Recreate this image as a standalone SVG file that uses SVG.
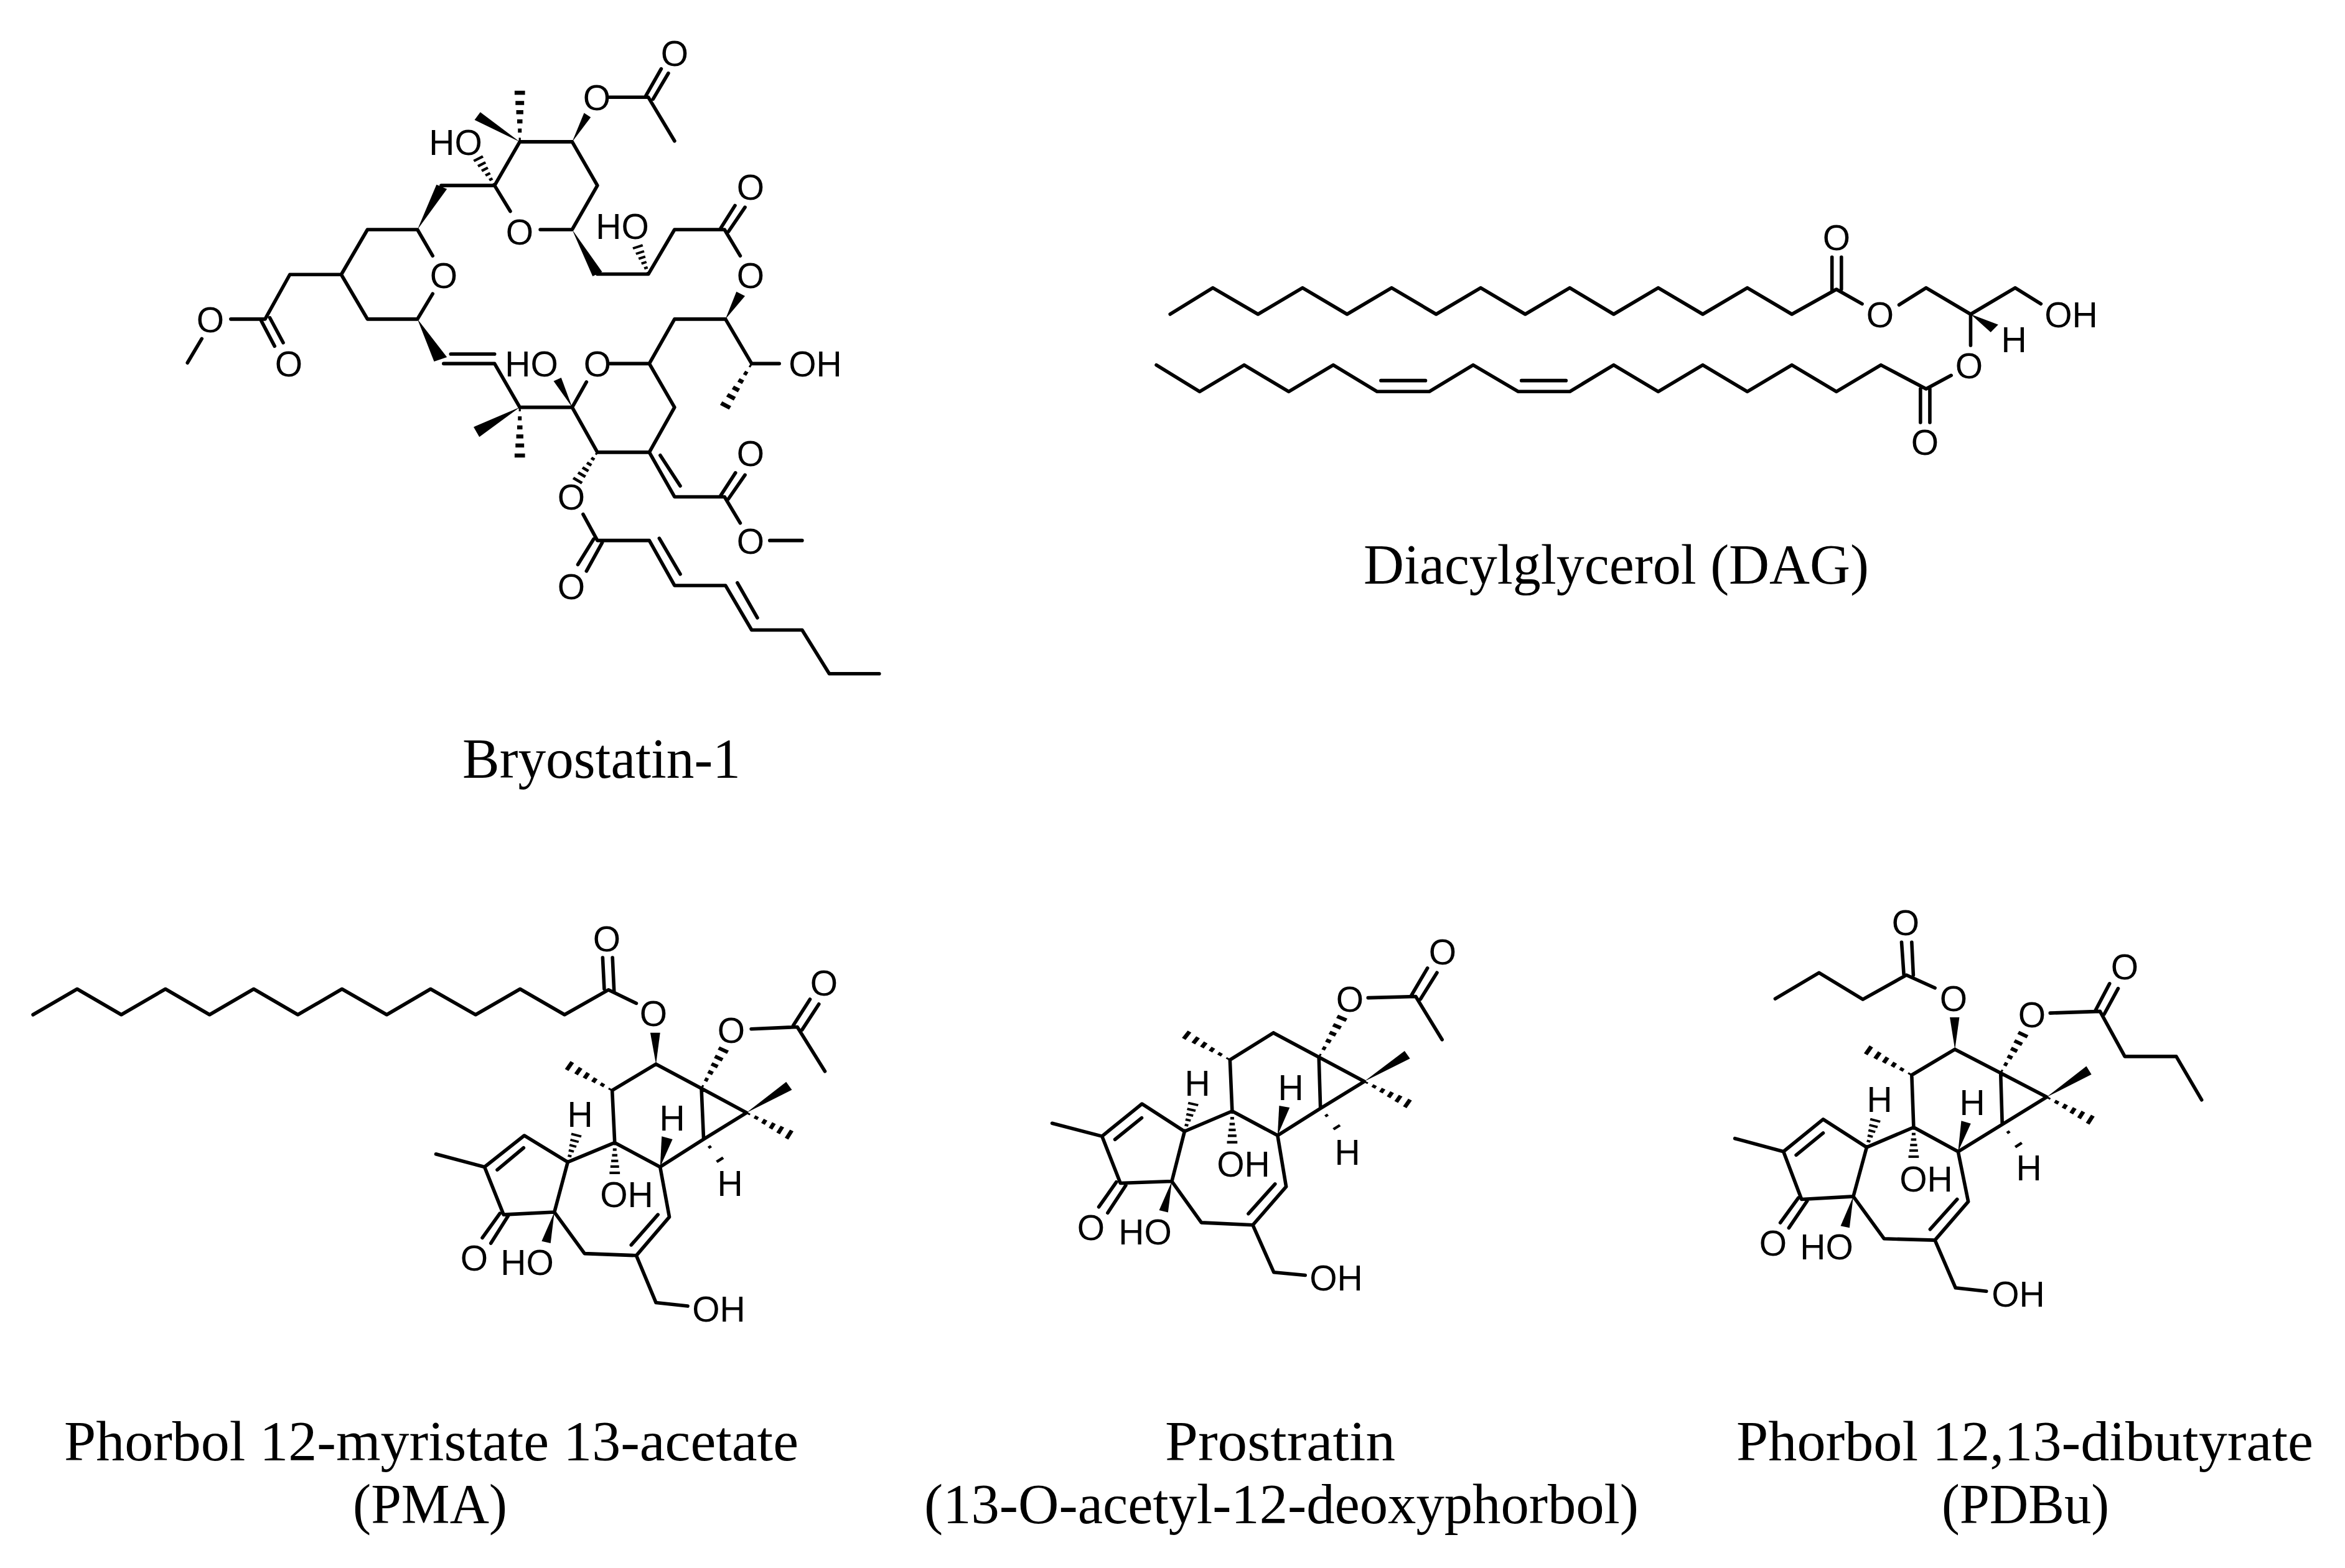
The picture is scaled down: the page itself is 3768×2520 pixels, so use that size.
<svg xmlns="http://www.w3.org/2000/svg" xmlns:xlink="http://www.w3.org/1999/xlink" width="3768" height="2520" viewBox="0 0 3768 2520">
<style>
.b{fill:none;stroke:#000;stroke-width:5.6;stroke-linecap:round;stroke-linejoin:round;vector-effect:non-scaling-stroke}
.w{fill:#000;stroke:none}
.a{font-family:"Liberation Sans",Arial,sans-serif;font-size:57px;fill:#000;text-anchor:middle}
.c{font-family:"Liberation Serif","Times New Roman",serif;font-size:90px;fill:#000}
</style>
<defs>
<g id="hash" class="w">
<rect x="0" y="-1.5" width="8" height="3"/><rect x="18" y="-2.8" width="8" height="5.6"/><rect x="36" y="-4" width="8" height="8"/><rect x="54" y="-5.3" width="8" height="10.6"/><rect x="72" y="-6.5" width="8" height="13"/><rect x="92" y="-7.8" width="8" height="15.6"/>
</g>
<g id="hash-s" class="w">
<rect x="30" y="-2.5" width="10" height="5"/><rect x="88" y="-6" width="10" height="12"/>
</g>
</defs>
<rect width="3768" height="2520" fill="#fff"/>

<g id="bryostatin">
<g transform="translate(250,30) scale(0.765,0.7018)">
<path class="b" d="M67,788L97,733M158,688L230,688L282,586L390,586L445,483L550,483L582,543M582,630L550,688L445,688L390,586M222,692L250,750M240,685L268,742"/>
<path class="b" d="M600,382L712,382L745,441M808,483L875,483L928,382L875,282L765,282L712,382"/>
<path class="b" d="M952,180L1035,180L1090,280M1030,176L1062,115M1045,184L1077,125"/>
<path class="b" d="M928,585L1035,585L1090,483L1195,483L1228,543M1187,480L1217,428M1203,488L1238,432"/>
<path class="b" d="M1197,688L1090,688L1037,790L952,790M1037,790L1090,890L1037,993L928,993L875,890L905,832M1197,688L1252,790L1310,790"/>
<path class="b" d="M875,890L765,890L712,790L605,790M620,768L712,768"/>
<path class="b" d="M1037,993L1090,1095L1195,1095L1228,1155M1060,1000L1102,1070M1187,1092L1218,1040M1203,1100L1238,1045M1290,1195L1358,1195"/>
<path class="b" d="M898,1135L928,1195L1037,1195L1090,1298L1197,1298L1252,1400L1358,1400L1415,1500L1520,1500M920,1192L887,1250M938,1200L905,1265M1058,1190L1102,1272M1222,1292L1264,1372"/>
<polygon class="w" points="550,483 590,380 612,390"/>
<polygon class="w" points="765,282 670,232 682,214"/>
<polygon class="w" points="875,282 900,216 914,226"/>
<polygon class="w" points="875,483 918,590 938,580"/>
<polygon class="w" points="1197,688 1220,625 1238,635"/>
<polygon class="w" points="550,688 585,785 612,775"/>
<polygon class="w" points="765,890 668,935 680,958"/>
<polygon class="w" points="875,890 836,830 852,822"/>
<use href="#hash" transform="translate(712,382) rotate(241) scale(0.73,1.4)"/>
<use href="#hash" transform="translate(765,282) rotate(-90) scale(1.17,1.4)"/>
<use href="#hash" transform="translate(1035,585) rotate(250.5) scale(0.69,1.4)"/>
<use href="#hash" transform="translate(1252,790) rotate(119.7) scale(1.15,1.4)"/>
<use href="#hash" transform="translate(765,890) rotate(90) scale(1.15,1.4)"/>
<use href="#hash" transform="translate(928,993) rotate(122.7) scale(0.8,1.4)"/>
</g>
<g>
<text class="a" x="338" y="534">O</text>
<text class="a" x="464" y="605">O</text>
<text class="a" x="713" y="463">O</text>
<text class="a" x="835" y="393">O</text>
<text class="a" x="732" y="249">HO</text>
<text class="a" x="959" y="177">O</text>
<text class="a" x="1084" y="106">O</text>
<text class="a" x="1000" y="384">HO</text>
<text class="a" x="1206" y="321">O</text>
<text class="a" x="1206" y="463">O</text>
<text class="a" x="1310" y="605">OH</text>
<text class="a" x="960" y="605">O</text>
<text class="a" x="854" y="605">HO</text>
<text class="a" x="1206" y="749">O</text>
<text class="a" x="1206" y="890">O</text>
<text class="a" x="918" y="819">O</text>
<text class="a" x="918" y="963">O</text>
</g>
<text class="c" x="743" y="1250" textLength="447" lengthAdjust="spacingAndGlyphs">Bryostatin-1</text>
</g>

<g id="dag">
<g transform="translate(1850,330) scale(1.008,0.3333)">
<path class="b" d="M30,525L98,398L170,525L241,398L312,525L383,398L454,525L525,398L596,525L667,398L737,525L808,398L879,525L950,398L1021,525L1092,405L1133,475M1192,480L1235,398L1306,525L1377,398L1418,475M1085,250L1085,410M1100,250L1100,405M1306,525L1306,675"/>
<path class="b" d="M8,770L77,898L148,770L219,898L290,770L360,898L443,898L513,770L585,898L667,898L737,770L808,898L879,770L950,898L1021,770L1092,898L1163,770L1235,885L1275,820M366,845L437,845M590,845L661,845M1226,885L1226,1047M1241,885L1241,1047"/>
<polygon class="w" points="1306,525 1350,575 1338,612"/>
</g>
<g>
<text class="a" x="2951" y="402">O</text>
<text class="a" x="3021" y="526">O</text>
<text class="a" x="3328" y="526">OH</text>
<text class="a" x="3236" y="566">H</text>
<text class="a" x="3164" y="608">O</text>
<text class="a" x="3093" y="731">O</text>
</g>
<text class="c" x="2191" y="938" textLength="812" lengthAdjust="spacingAndGlyphs">Diacylglycerol (DAG)</text>
</g>

<g id="pma">
<g transform="translate(600,1460) scale(0.5102,0.4591)">
<path class="b" d="M-1072,372L-933,282L-794,372L-655,282L-516,372L-377,282L-238,372L-99,282L42,372L180,282L322,372L462,282L602,372L740,285L828,332M722,172L727,282M753,172L758,290"/>
<path class="b" d="M890,545L752,637L760,820L612,888L475,795L350,905L410,1072L570,1063L665,1208L828,1215L932,1080L903,905L760,820M612,888L570,1063M890,545L1033,630L1040,808L903,905M1033,630L1175,715L1040,808M390,915L473,838M812,1178L896,1072M350,905L197,860M343,1153L398,1068M370,1172L425,1075M828,1215L890,1380L990,1392"/>
<path class="b" d="M1190,422L1335,415L1422,570M1322,410L1375,318M1350,425L1403,335"/>
<polygon class="w" points="890,545 872,435 903,435"/>
<polygon class="w" points="570,1063 530,1165 558,1172"/>
<polygon class="w" points="903,905 908,798 942,808"/>
<polygon class="w" points="1175,715 1300,607 1318,635"/>
<use href="#hash" transform="translate(752,637) rotate(212.4) scale(1.66,2.1)"/>
<use href="#hash" transform="translate(612,888) rotate(-74) scale(1.02,2.1)"/>
<use href="#hash" transform="translate(760,820) rotate(90) scale(1.1,2.1)"/>
<use href="#hash-s" transform="translate(1040,808) rotate(54.5) scale(0.95,2.1)"/>
<use href="#hash" transform="translate(1033,630) rotate(-62.8) scale(1.57,2.1)"/>
<use href="#hash" transform="translate(1175,715) rotate(29.7) scale(1.61,2.1)"/>
</g>
<g>
<text class="a" x="975" y="1529">O</text>
<text class="a" x="1050" y="1649">O</text>
<text class="a" x="1175" y="1676">O</text>
<text class="a" x="1324" y="1600">O</text>
<text class="a" x="932" y="1811">H</text>
<text class="a" x="1080" y="1817">H</text>
<text class="a" x="1007" y="1940">OH</text>
<text class="a" x="1173" y="1922">H</text>
<text class="a" x="762" y="2042">O</text>
<text class="a" x="847" y="2049">HO</text>
<text class="a" x="1155" y="2124">OH</text>
</g>
<text class="c" x="103" y="2347" textLength="1180" lengthAdjust="spacingAndGlyphs">Phorbol 12-myristate 13-acetate</text>
<text class="c" x="567" y="2448" textLength="248" lengthAdjust="spacingAndGlyphs">(PMA)</text>
</g>

<g id="prostratin">
<g transform="translate(1660,1480) scale(0.5102,0.4337)">
<path class="b" d="M757,415L620,515L627,705L477,780L343,678L217,798L275,972L437,965L530,1118L692,1127L797,985L770,795L627,705M477,780L437,965M757,415L900,505L905,695L770,795M900,505L1043,595L905,695M258,810L342,730M678,1085L762,975M217,798L60,750M207,1060L262,968M235,1082L292,980M692,1127L758,1302L857,1313"/>
<path class="b" d="M1055,285L1205,280L1288,440M1192,275L1242,175M1220,290L1272,192"/>
<polygon class="w" points="437,965 397,1072 425,1080"/>
<polygon class="w" points="770,795 775,685 808,692"/>
<polygon class="w" points="1043,595 1170,482 1187,510"/>
<use href="#hash" transform="translate(620,515) rotate(213.8) scale(1.71,2.1)"/>
<use href="#hash" transform="translate(477,780) rotate(-75) scale(1.09,2.1)"/>
<use href="#hash" transform="translate(627,705) rotate(90) scale(1.2,2.1)"/>
<use href="#hash-s" transform="translate(905,695) rotate(53.7) scale(0.93,2.1)"/>
<use href="#hash" transform="translate(900,505) rotate(-63.4) scale(1.68,2.1)"/>
<use href="#hash" transform="translate(1043,595) rotate(30.9) scale(1.65,2.1)"/>
</g>
<g>
<text class="a" x="2318" y="1550">O</text>
<text class="a" x="2169" y="1626">O</text>
<text class="a" x="1924" y="1761">H</text>
<text class="a" x="2074" y="1768">H</text>
<text class="a" x="1998" y="1891">OH</text>
<text class="a" x="2165" y="1872">H</text>
<text class="a" x="1753" y="1993">O</text>
<text class="a" x="1840" y="2000">HO</text>
<text class="a" x="2147" y="2074">OH</text>
</g>
<text class="c" x="1872" y="2347" textLength="370" lengthAdjust="spacingAndGlyphs">Prostratin</text>
<text class="c" x="1485" y="2448" textLength="1148" lengthAdjust="spacingAndGlyphs">(13-O-acetyl-12-deoxyphorbol)</text>
</g>

<g id="pdbu">
<g transform="translate(2780,1450) scale(0.5102,0.4591)">
<path class="b" d="M708,515L572,605L578,788L430,858L293,760L168,873L225,1040L388,1030L485,1178L645,1183L750,1048L718,873L578,788M430,858L388,1030M708,515L852,598L857,778L718,873M852,598L997,682L857,778M208,885L293,808M630,1145L715,1040M168,873L15,827M158,1122L215,1035M185,1140L243,1045M645,1183L710,1350L807,1362"/>
<path class="b" d="M1008,388L1165,382L1243,540L1405,540L1485,692M1150,380L1195,285M1178,392L1222,302"/>
<path class="b" d="M645,300L555,255L418,340L280,247L142,338M540,140L547,252M572,140L577,255"/>
<polygon class="w" points="388,1030 348,1133 376,1140"/>
<polygon class="w" points="718,873 728,765 758,775"/>
<polygon class="w" points="997,682 1122,574 1138,603"/>
<polygon class="w" points="708,515 692,403 722,403"/>
<use href="#hash" transform="translate(572,605) rotate(212.4) scale(1.68,2.1)"/>
<use href="#hash" transform="translate(430,858) rotate(-74) scale(1.02,2.1)"/>
<use href="#hash" transform="translate(578,788) rotate(90) scale(1.07,2.1)"/>
<use href="#hash-s" transform="translate(857,778) rotate(54.5) scale(0.95,2.1)"/>
<use href="#hash" transform="translate(852,598) rotate(-62.5) scale(1.58,2.1)"/>
<use href="#hash" transform="translate(997,682) rotate(30) scale(1.65,2.1)"/>
</g>
<g>
<text class="a" x="3062" y="1503">O</text>
<text class="a" x="3139" y="1625">O</text>
<text class="a" x="3414" y="1574">O</text>
<text class="a" x="3265" y="1651">O</text>
<text class="a" x="3020" y="1787">H</text>
<text class="a" x="3169" y="1792">H</text>
<text class="a" x="3095" y="1915">OH</text>
<text class="a" x="3260" y="1897">H</text>
<text class="a" x="2849" y="2018">O</text>
<text class="a" x="2935" y="2024">HO</text>
<text class="a" x="3243" y="2100">OH</text>
</g>
<text class="c" x="2790" y="2347" textLength="927" lengthAdjust="spacingAndGlyphs">Phorbol 12,13-dibutyrate</text>
<text class="c" x="3120" y="2448" textLength="269" lengthAdjust="spacingAndGlyphs">(PDBu)</text>
</g>
</svg>
